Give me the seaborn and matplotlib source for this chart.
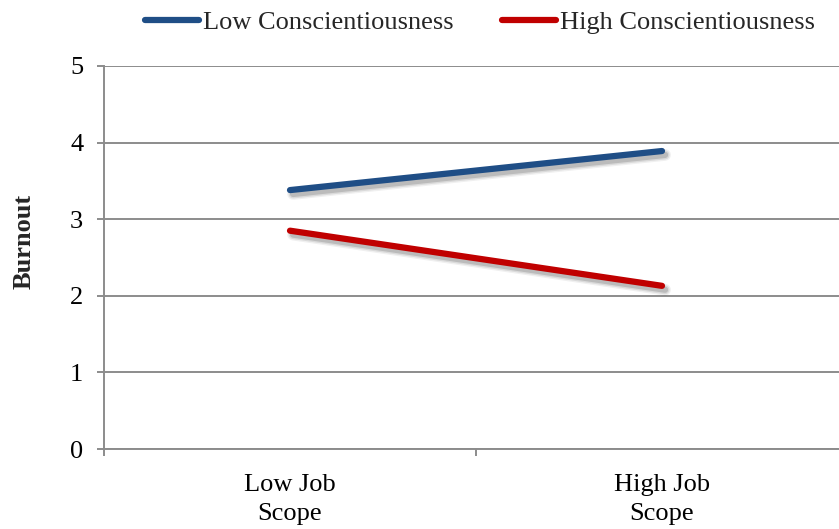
import matplotlib
matplotlib.use("Agg")
import matplotlib.pyplot as plt
import matplotlib.patheffects as pe
import seaborn as sns
import pandas as pd

# Simple-slopes data
scope_levels = ["Low Job\nScope", "High Job\nScope"]
low_consc = [3.38, 3.89]
high_consc = [2.85, 2.13]
groups = ["Low Conscientiousness", "High Conscientiousness"]
colors = ["#1F4E86", "#C00000"]

df = pd.DataFrame({
    "scope": scope_levels * 2,
    "burnout": low_consc + high_consc,
    "group": [groups[0]] * 2 + [groups[1]] * 2,
})

sns.set_theme(style="white")
plt.rcParams["font.family"] = ["Liberation Serif", "DejaVu Serif"]

FS = 19
fig = plt.figure(figsize=(8.39, 5.29), dpi=100)
W, H = 839, 529
ax = fig.add_axes([104 / W, (H - 449) / H, 744 / W, (449 - 66) / H])

sns.lineplot(data=df, x="scope", y="burnout", hue="group", hue_order=groups,
             palette=colors, sort=False, linewidth=4.5, ax=ax, legend=False)

# soft drop shadow built from a few translucent layers
shadow = [pe.SimpleLineShadow(offset=(2.2, -2.8), shadow_color="#000000", alpha=a,
                              linewidth=w)
          for w, a in ((8.5, 0.06), (6.5, 0.09), (4.5, 0.14))]
shadow.append(pe.Normal())
for ln in ax.get_lines():
    ln.set_solid_capstyle("round")
    ln.set_path_effects(shadow)

ax.set_xlim(-0.5, 1.5)
ax.set_ylim(0, 5)
ax.set_yticks(range(0, 6))
grid_c = "#8C8C8C"
ax.grid(axis="y", color=grid_c, linewidth=1.4)
ax.grid(axis="x", visible=False)
ax.set_axisbelow(True)

for s in ["top", "right"]:
    ax.spines[s].set_visible(False)
for s in ["left", "bottom"]:
    ax.spines[s].set_color(grid_c)
    ax.spines[s].set_linewidth(1.4)

ax.tick_params(axis="y", which="major", length=5, width=1.4, color=grid_c,
               left=True, labelsize=FS, pad=10, labelcolor="black")
ax.set_xticks([0, 1])
ax.set_xticklabels(scope_levels)
ax.set_xticks([-0.5, 0.5, 1.5], minor=True)
ax.tick_params(axis="x", which="major", length=0, labelsize=FS, pad=18,
               labelcolor="black")
ax.tick_params(axis="x", which="minor", length=5, width=1.4, color=grid_c,
               bottom=True)
for t in ax.get_xticklabels():
    t.set_linespacing(1.42)

ax.set_xlabel("")
ax.set_ylabel("Burnout", fontsize=FS, fontweight="bold", labelpad=25)
ax.yaxis.label.set_y(0.543)

handles = [plt.Line2D([], [], color=c, linewidth=4.5, solid_capstyle="round")
           for c in colors]
fig.legend(handles, groups, loc="center", bbox_to_anchor=(480 / W, 1 - 22 / H),
           ncol=2, frameon=False, fontsize=FS, handlelength=2.05,
           handletextpad=0.15, columnspacing=1.85)

fig.savefig("out.png", dpi=100)
